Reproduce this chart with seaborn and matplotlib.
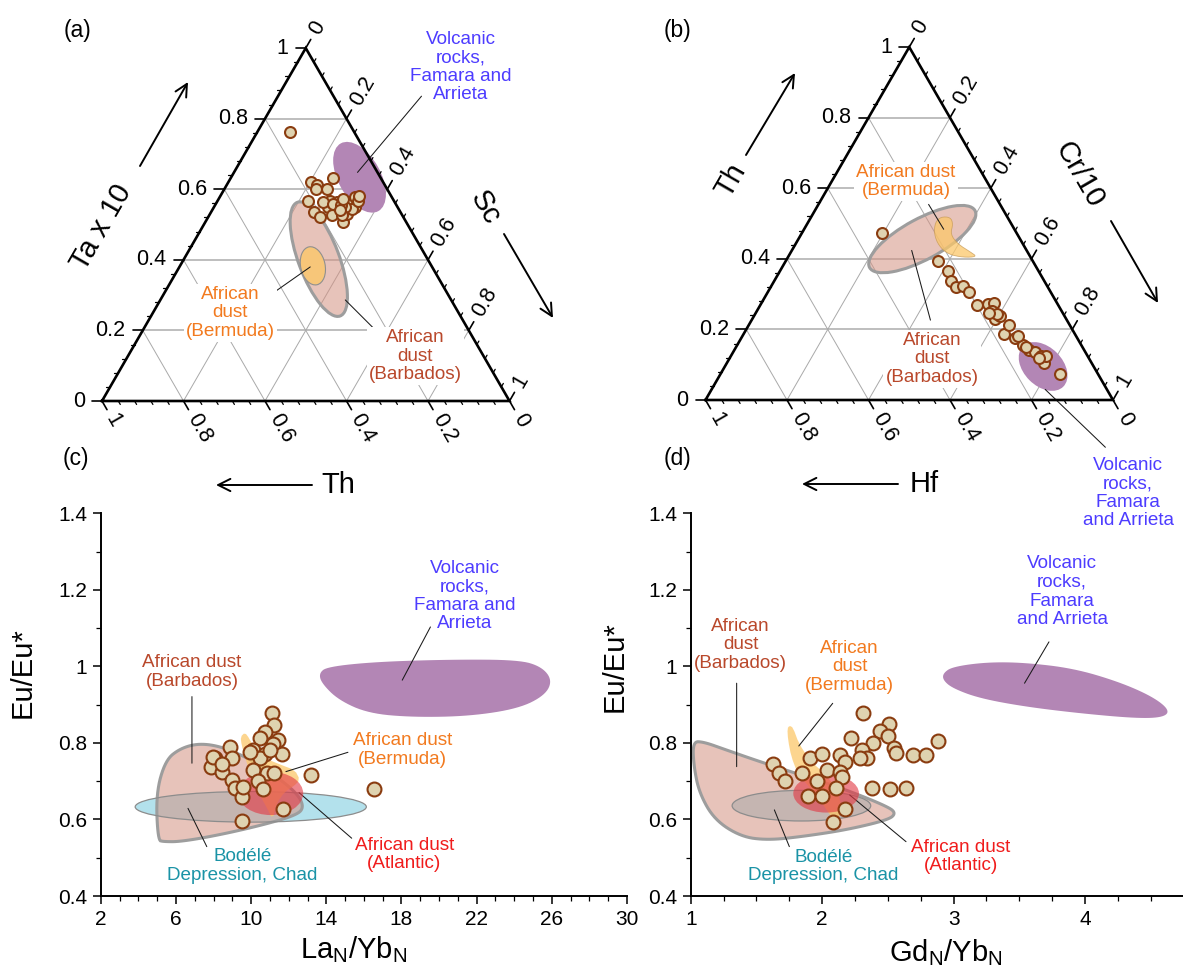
import numpy as np
import pandas as pd
import seaborn as sns
import matplotlib
matplotlib.use("Agg")
import matplotlib.pyplot as plt
from matplotlib.patches import Ellipse, Polygon
from matplotlib.ticker import MultipleLocator, FixedLocator, FuncFormatter

sns.set_theme(style="ticks")
plt.rcParams["font.family"] = ["Liberation Sans", "DejaVu Sans"]
plt.rcParams["mathtext.fontset"] = "custom"
plt.rcParams["mathtext.rm"] = "Liberation Sans"
plt.rcParams["mathtext.it"] = "Liberation Sans:italic"
for key in ("text.color", "axes.labelcolor", "xtick.color", "ytick.color",
            "axes.edgecolor"):
    plt.rcParams[key] = "black"

# ------------------------------------------------------------------ samples
# (a) Ta x 10 - Sc - Th, normalised fractions (Th = 1 - Ta - Sc)
a_ta = [0.762, 0.633, 0.621, 0.613, 0.601, 0.600, 0.566, 0.535, 0.521, 0.549,
        0.526, 0.563, 0.568, 0.507, 0.531, 0.563, 0.577, 0.549, 0.545, 0.568,
        0.549, 0.563, 0.557, 0.526, 0.555, 0.540, 0.572, 0.580]
a_sc = [0.080, 0.251, 0.202, 0.222, 0.225, 0.253, 0.223, 0.253, 0.274, 0.281,
        0.301, 0.294, 0.276, 0.339, 0.335, 0.323, 0.332, 0.346, 0.340, 0.345,
        0.322, 0.261, 0.289, 0.325, 0.310, 0.315, 0.305, 0.340]

# (b) Th - Cr/10 - Hf, normalised fractions (Hf = 1 - Th - Cr)
b_th = [0.474, 0.393, 0.365, 0.338, 0.319, 0.324, 0.307, 0.269, 0.271, 0.274,
        0.252, 0.229, 0.238, 0.187, 0.212, 0.176, 0.157, 0.143, 0.135, 0.124,
        0.105, 0.124, 0.074, 0.181, 0.243, 0.247, 0.119, 0.149]
b_cr = [0.196, 0.374, 0.413, 0.433, 0.455, 0.469, 0.494, 0.532, 0.557, 0.570,
        0.576, 0.596, 0.604, 0.639, 0.640, 0.672, 0.700, 0.723, 0.740, 0.762,
        0.779, 0.774, 0.832, 0.676, 0.595, 0.572, 0.760, 0.712]

# (c) LaN/YbN vs Eu/Eu*
c_la_yb = [11.12, 11.21, 10.73, 10.47, 11.44, 11.18, 10.11, 10.73, 10.47, 11.62,
           8.87, 8.07, 8.96, 7.86, 8.43, 8.96, 9.14, 9.50, 10.11, 10.82,
           11.20, 10.38, 10.64, 13.18, 11.71, 9.53, 9.58, 9.94, 11.00, 16.55,
           7.95, 8.45]
c_eu = [0.879, 0.847, 0.829, 0.812, 0.808, 0.797, 0.781, 0.771, 0.760, 0.771,
        0.790, 0.760, 0.760, 0.738, 0.725, 0.703, 0.681, 0.658, 0.729, 0.722,
        0.722, 0.700, 0.679, 0.716, 0.627, 0.597, 0.684, 0.777, 0.781, 0.679,
        0.764, 0.745]

# (d) GdN/YbN vs Eu/Eu*
d_gd_yb = [2.313, 2.511, 2.440, 2.503, 2.217, 2.389, 2.546, 2.300, 2.338, 2.288,
           2.561, 2.693, 2.790, 2.884, 1.907, 1.996, 2.135, 2.173, 2.039, 2.135,
           2.148, 1.849, 1.958, 1.628, 1.671, 1.717, 2.102, 1.889, 1.996, 2.173,
           2.085, 2.382, 2.516, 2.635]
d_eu = [0.879, 0.849, 0.830, 0.818, 0.812, 0.799, 0.786, 0.781, 0.760, 0.760,
        0.773, 0.769, 0.769, 0.806, 0.760, 0.771, 0.769, 0.750, 0.729, 0.725,
        0.712, 0.721, 0.700, 0.744, 0.722, 0.700, 0.681, 0.662, 0.660, 0.627,
        0.594, 0.681, 0.680, 0.681]

# ------------------------------------------------------------ reference fields
# ternary fields: (top fraction, right fraction) centre, axes, tilt
a_volc_field = dict(top=0.634, right=0.315, w=0.19, h=0.104, ang=-61)
a_barb_field = dict(top=0.402, right=0.331, w=0.298, h=0.10, ang=-69.4)
a_berm_field = dict(top=0.383, right=0.326, w=0.095, h=0.060, ang=-78)
b_barb_field = dict(top=0.456, right=0.304, w=0.294, h=0.10, ang=28.4)
b_volc_field = dict(top=0.095, right=0.781, w=0.14, h=0.095, ang=-45)
b_berm_th = [0.519, 0.518, 0.499, 0.470, 0.442, 0.418, 0.406, 0.404, 0.413,
             0.437, 0.470, 0.503]
b_berm_cr = [0.318, 0.342, 0.358, 0.366, 0.398, 0.443, 0.463, 0.431, 0.389,
             0.354, 0.326, 0.312]

# (c) fields
c_barb_x = [5.04, 4.94, 5.44, 6.24, 7.24, 8.45, 9.85, 11.25, 12.45, 12.81, 12.45,
            10.65, 8.25, 6.24, 5.34]
c_barb_y = [0.546, 0.668, 0.755, 0.786, 0.799, 0.790, 0.760, 0.716, 0.668, 0.633,
            0.612, 0.586, 0.559, 0.542, 0.542]
c_berm_x = [9.44, 9.67, 9.90, 10.20, 10.73, 11.62, 12.33, 12.60, 12.24, 11.80,
            11.35, 11.14, 10.82, 10.29, 9.94, 9.67, 9.49]
c_berm_y = [0.816, 0.827, 0.812, 0.782, 0.760, 0.742, 0.729, 0.703, 0.686, 0.673,
            0.642, 0.599, 0.633, 0.677, 0.721, 0.764, 0.795]
c_volc_x = [13.61, 14.05, 16.65, 20.65, 24.25, 25.46, 26.02, 25.65, 24.25, 21.65,
            18.65, 16.25, 14.65, 13.75]
c_volc_y = [0.982, 0.999, 1.012, 1.018, 1.017, 0.999, 0.964, 0.925, 0.890, 0.870,
            0.867, 0.877, 0.912, 0.956]
c_bod_field = dict(x=9.98, y=0.633, w=12.3, h=0.08)
c_atl_field = dict(x=11.04, y=0.668, w=3.46, h=0.113)

# (d) fields
d_barb_x = [1.015, 1.095, 1.267, 1.526, 1.842, 2.187, 2.503, 2.561, 2.503, 2.187,
            1.842, 1.584, 1.382, 1.181, 1.066, 1.023]
d_barb_y = [0.803, 0.803, 0.782, 0.751, 0.716, 0.677, 0.633, 0.616, 0.599, 0.573,
            0.555, 0.546, 0.555, 0.599, 0.668, 0.738]
d_berm_x = [1.735, 1.752, 1.778, 1.822, 1.905, 2.010, 2.090, 2.140, 2.145, 2.090,
            2.034, 1.965, 1.878, 1.808, 1.765, 1.740]
d_berm_y = [0.838, 0.845, 0.840, 0.799, 0.755, 0.722, 0.690, 0.651, 0.612, 0.597,
            0.625, 0.660, 0.694, 0.725, 0.764, 0.808]
d_volc_x = [2.920, 2.992, 3.250, 3.538, 3.911, 4.256, 4.515, 4.644, 4.601, 4.400,
            3.969, 3.538, 3.193, 2.992, 2.920]
d_volc_y = [0.982, 0.999, 1.011, 1.010, 0.995, 0.960, 0.921, 0.886, 0.867, 0.864,
            0.877, 0.895, 0.917, 0.943, 0.964]
d_bod_field = dict(x=1.842, y=0.636, w=1.055, h=0.08)
d_atl_field = dict(x=2.03, y=0.668, w=0.50, h=0.10)

# ------------------------------------------------------------------- styling
W, H = 1183, 972
PX = 407.5                      # pixels per triangle side
H3 = np.sqrt(3) / 2

PT_FACE, PT_EDGE = "#dfd3b0", "#8a3c10"
F_PURPLE = "#b386b5"
F_BARB, A_BARB = "#d49282", 0.55
E_BARB = "#9d9d9d"
F_BERM, A_BERM = "#fcc86a", 0.75
F_ATL, A_ATL = "#e23a45", 0.62
F_BOD, E_BOD = "#b3e1ec", "#8c8c8c"

T_VOLC = "#4d3cff"
T_BERM = "#f27a1f"
T_BARB = "#b9482b"
T_ATL = "#f01c1c"
T_BOD = "#1a93a6"

FS_LAB = 13.6
FS_TICK = 15.5
FS_AX = 21


def rect(x0, y0, x1, y1):
    return [x0 / W, 1 - y1 / H, (x1 - x0) / W, (y1 - y0) / H]


def tern_xy(top, right):
    top = np.asarray(top, float)
    right = np.asarray(right, float)
    return right + top / 2.0, top * H3


def smooth_closed(xs, ys, n=3):
    p = np.column_stack([xs, ys]).astype(float)
    for _ in range(n):
        nxt = np.roll(p, -1, axis=0)
        q = 0.75 * p + 0.25 * nxt
        r = 0.25 * p + 0.75 * nxt
        p = np.empty((2 * len(q), 2))
        p[0::2], p[1::2] = q, r
    return p


def make_ternary(fig, box, origin):
    x0, y0, x1, y1 = box
    ox, oy = origin
    ax = fig.add_axes(rect(*box))
    ax.set_xlim((x0 - ox) / PX, (x1 - ox) / PX)
    ax.set_ylim((oy - y1) / PX, (oy - y0) / PX)
    ax.axis("off")
    return ax


def draw_ternary_frame(ax):
    major = np.round(np.arange(0, 1.0001, 0.2), 2)
    minor = np.round(np.arange(0, 1.0001, 0.04), 2)
    for v in major[1:-1]:
        x, y = tern_xy([v, v], [0, 1 - v])
        ax.plot(x, y, color="#b3b3b3", lw=1.2, zorder=0.5)
        x, y = tern_xy([0, 1 - v], [v, v])
        ax.plot(x, y, color="#a9a9a9", lw=0.7, zorder=0.5)
        x, y = tern_xy([0, 1 - v], [1 - v, 0])
        ax.plot(x, y, color="#a9a9a9", lw=0.7, zorder=0.5)
    ax.plot([0, 1, 0.5, 0], [0, 0, H3, 0], color="black", lw=1.9, zorder=6,
            solid_joinstyle="miter", solid_capstyle="projecting")

    dirs = {"left": (-1.0, 0.0), "right": (0.5, H3), "bottom": (0.5, -H3)}

    def base(kind, v):
        if kind == "left":
            return tern_xy(v, 0)
        if kind == "right":
            return tern_xy(1 - v, v)
        return tern_xy(0, 1 - v)

    L_maj, L_min = 10 / PX, 4 / PX
    for kind, (dx, dy) in dirs.items():
        for v in minor:
            is_major = np.isclose(v * 5, round(v * 5))
            L = L_maj if is_major else L_min
            bx, by = base(kind, v)
            ax.plot([bx, bx + dx * L], [by, by + dy * L], color="black",
                    lw=1.2 if is_major else 0.9, zorder=6)
        g = L_maj + 7 / PX
        for v in major:
            bx, by = base(kind, v)
            lab = f"{v:g}"
            if kind == "left":
                ax.text(bx + dx * g, by, lab, ha="right", va="center",
                        fontsize=FS_TICK)
            else:
                ax.text(bx + dx * g, by + dy * g, lab,
                        rotation=60 if kind == "right" else -60,
                        rotation_mode="anchor", ha="left", va="center",
                        fontsize=FS_TICK)


def tern_ellipse(ax, f, **kw):
    cx, cy = tern_xy(f["top"], f["right"])
    ax.add_patch(Ellipse((cx, cy), f["w"], f["h"], angle=f["ang"], **kw))


def leader(ax, start, end, lw=0.75):
    ax.annotate("", xy=end, xytext=start, annotation_clip=False,
                arrowprops=dict(arrowstyle="-", lw=lw, color="#1a1a1a",
                                shrinkA=0, shrinkB=0))


def label(ax, xy, txt, color, box=False):
    kw = {}
    if box:
        kw["bbox"] = dict(fc="white", ec="none", pad=1.5)
    ax.text(xy[0], xy[1], txt, ha="center", va="center", color=color,
            fontsize=FS_LAB, linespacing=1.12, zorder=4, **kw)


def scatter_pts(ax, x, y, s):
    sns.scatterplot(x=np.asarray(x), y=np.asarray(y), ax=ax, s=s,
                    color=PT_FACE, edgecolor=PT_EDGE, linewidth=1.5,
                    zorder=5, legend=False)


fig = plt.figure(figsize=(W / 100, H / 100), dpi=100)
fig.patch.set_facecolor("white")

# ------------------------------------------------------------ (a) ternary
ax_a = make_ternary(fig, (0, 0, 590, 470), (102, 401))
draw_ternary_frame(ax_a)
tern_ellipse(ax_a, a_volc_field, fc=F_PURPLE, ec="none", zorder=2)
tern_ellipse(ax_a, a_barb_field, fc=F_BARB, alpha=A_BARB, ec="none", zorder=2)
tern_ellipse(ax_a, a_barb_field, fc="none", ec=E_BARB, lw=2.2, zorder=2.1)
tern_ellipse(ax_a, a_berm_field, fc="#f7c679", ec="#8f8f8f", lw=0.8, zorder=2.2)
xa, ya = tern_xy(a_ta, a_sc)
scatter_pts(ax_a, xa, ya, 62)
label(ax_a, (0.881, 0.820), "Volcanic\nrocks,\nFamara and\nArrieta", T_VOLC)
leader(ax_a, (0.784, 0.748), (0.627, 0.561))
label(ax_a, (0.315, 0.216), "African\ndust\n(Bermuda)", T_BERM, box=True)
leader(ax_a, (0.407, 0.256), (0.511, 0.329))
label(ax_a, (0.769, 0.110), "African\ndust\n(Barbados)", T_BARB, box=True)
leader(ax_a, (0.673, 0.172), (0.597, 0.248))

# ------------------------------------------------------------ (b) ternary
ax_b = make_ternary(fig, (593, 0, 1183, 560), (705.5, 400))
draw_ternary_frame(ax_b)
tern_ellipse(ax_b, b_volc_field, fc=F_PURPLE, ec="none", zorder=2)
tern_ellipse(ax_b, b_barb_field, fc=F_BARB, alpha=A_BARB, ec="none", zorder=2)
tern_ellipse(ax_b, b_barb_field, fc="none", ec=E_BARB, lw=2.2, zorder=2.1)
bx_, by_ = tern_xy(b_berm_th, b_berm_cr)
ax_b.add_patch(Polygon(smooth_closed(bx_, by_, 2), closed=True, fc=F_BERM,
                       alpha=A_BERM, ec="#c79a55", lw=0.6, zorder=2.2))
xb, yb = tern_xy(b_th, b_cr)
scatter_pts(ax_b, xb, yb, 62)
label(ax_b, (0.492, 0.536), "African dust\n(Bermuda)", T_BERM, box=True)
leader(ax_b, (0.5475, 0.480), (0.5845, 0.419))
label(ax_b, (0.556, 0.101), "African\ndust\n(Barbados)", T_BARB, box=True)
leader(ax_b, (0.552, 0.196), (0.506, 0.367))
label(ax_b, (1.037, -0.228), "Volcanic\nrocks,\nFamara\nand Arrieta", T_VOLC)
leader(ax_b, (0.8336, 0.026), (0.9813, -0.116))


# ------------------------------------------------------------ (c) & (d)
def style_xy(ax, xlim, xmajor, xminor):
    ax.set_facecolor("none")
    ax.set_xlim(*xlim)
    ax.set_ylim(0.4, 1.4)
    sns.despine(ax=ax)
    for s in ("left", "bottom"):
        ax.spines[s].set_linewidth(1.4)
        ax.spines[s].set_color("black")
    ax.xaxis.set_major_locator(FixedLocator(xmajor))
    ax.xaxis.set_minor_locator(MultipleLocator(xminor))
    ax.yaxis.set_major_locator(FixedLocator([0.4, 0.6, 0.8, 1.0, 1.2, 1.4]))
    ax.yaxis.set_minor_locator(MultipleLocator(0.1))
    fmt = FuncFormatter(lambda v, p: f"{v:g}")
    ax.xaxis.set_major_formatter(fmt)
    ax.yaxis.set_major_formatter(fmt)
    ax.tick_params(which="major", direction="out", length=6, width=1.1,
                   labelsize=15, pad=4, color="black", labelcolor="black")
    ax.tick_params(which="minor", direction="out", length=3.5, width=0.9,
                   color="black")
    ax.grid(False)


def fields_xy(ax, barb, berm, volc, bod, atl):
    ax.add_patch(Ellipse((bod["x"], bod["y"]), bod["w"], bod["h"], fc=F_BOD,
                         ec="none", zorder=1))
    pb = smooth_closed(*barb, 3)
    ax.add_patch(Polygon(pb, closed=True, fc=F_BARB, alpha=A_BARB, ec="none",
                         zorder=2))
    ax.add_patch(Polygon(pb, closed=True, fc="none", ec=E_BARB, lw=2.2,
                         zorder=2.1))
    ax.add_patch(Ellipse((bod["x"], bod["y"]), bod["w"], bod["h"], fc="none",
                         ec=E_BOD, lw=0.9, zorder=2.2))
    ax.add_patch(Polygon(smooth_closed(*berm, 1), closed=True, fc=F_BERM,
                         alpha=A_BERM, ec="none", zorder=3))
    ax.add_patch(Ellipse((atl["x"], atl["y"]), atl["w"], atl["h"], fc=F_ATL,
                         alpha=A_ATL, ec="none", zorder=3.5))
    ax.add_patch(Polygon(smooth_closed(*volc, 3), closed=True, fc=F_PURPLE,
                         ec="none", zorder=2))


ax_c = fig.add_axes(rect(100.8, 513.3, 627.0, 896.0))
style_xy(ax_c, (2, 30), [2, 6, 10, 14, 18, 22, 26, 30], 1)
fields_xy(ax_c, (c_barb_x, c_barb_y), (c_berm_x, c_berm_y),
          (c_volc_x, c_volc_y), c_bod_field, c_atl_field)
scatter_pts(ax_c, c_la_yb, c_eu, 100)
ax_c.text(0.48, -0.141, r"La$_\mathregular{N}$/Yb$_\mathregular{N}$",
          transform=ax_c.transAxes, ha="center", va="center", fontsize=FS_AX)
ax_c.text(-0.149, 0.583, "Eu/Eu*", transform=ax_c.transAxes, rotation=90,
          ha="center", va="center", fontsize=FS_AX)
label(ax_c, (21.35, 1.184), "Volcanic\nrocks,\nFamara and\nArrieta", T_VOLC)
leader(ax_c, (19.54, 1.103), (18.04, 0.964))
label(ax_c, (6.85, 0.986), "African dust\n(Barbados)", T_BARB)
leader(ax_c, (6.85, 0.921), (6.85, 0.747))
label(ax_c, (18.05, 0.7815), "African dust\n(Bermuda)", T_BERM)
leader(ax_c, (15.15, 0.7755), (11.85, 0.725))
label(ax_c, (18.15, 0.509), "African dust\n(Atlantic)", T_ATL)
leader(ax_c, (15.35, 0.551), (12.55, 0.670))
label(ax_c, (9.55, 0.479), "Bodélé\nDepression, Chad", T_BOD)
leader(ax_c, (7.64, 0.529), (6.64, 0.629))

ax_d = fig.add_axes(rect(690.8, 513.3, 1183.5, 896.0))
style_xy(ax_d, (1, 4.75), [1, 2, 3, 4], 0.25)
fields_xy(ax_d, (d_barb_x, d_barb_y), (d_berm_x, d_berm_y),
          (d_volc_x, d_volc_y), d_bod_field, d_atl_field)
scatter_pts(ax_d, d_gd_yb, d_eu, 100)
ax_d.text(0.517, -0.149, r"Gd$_\mathregular{N}$/Yb$_\mathregular{N}$",
          transform=ax_d.transAxes, ha="center", va="center", fontsize=FS_AX)
ax_d.text(-0.155, 0.599, "Eu/Eu*", transform=ax_d.transAxes, rotation=90,
          ha="center", va="center", fontsize=FS_AX)
label(ax_d, (1.378, 1.056), "African\ndust\n(Barbados)", T_BARB)
leader(ax_d, (1.349, 0.956), (1.349, 0.738))
label(ax_d, (2.208, 0.999), "African\ndust\n(Bermuda)", T_BERM)
leader(ax_d, (2.08, 0.9035), (1.822, 0.792))
label(ax_d, (3.826, 1.195), "Volcanic\nrocks,\nFamara\nand Arrieta", T_VOLC)
leader(ax_d, (3.726, 1.064), (3.54, 0.956))
label(ax_d, (3.053, 0.503), "African dust\n(Atlantic)", T_ATL)
leader(ax_d, (2.638, 0.542), (2.209, 0.664))
label(ax_d, (2.008, 0.477), "Bodélé\nDepression, Chad", T_BOD)
leader(ax_d, (1.75, 0.529), (1.636, 0.625))

# ------------------------------------------- panel letters, axis names, arrows
deco = fig.add_axes([0, 0, 1, 1])
deco.set_xlim(0, W)
deco.set_ylim(H, 0)
deco.axis("off")
for txt, xy in [("(a)", (78, 31)), ("(b)", (678, 31)),
                ("(c)", (76, 458)), ("(d)", (678, 458))]:
    deco.text(*xy, txt, ha="center", va="center", fontsize=16.5)

deco.text(102, 227, "Ta x 10", rotation=60, ha="center", va="center",
          fontsize=FS_AX)
deco.text(485, 208, "Sc", rotation=-60, ha="center", va="center",
          fontsize=FS_AX)
deco.text(338, 485, "Th", ha="center", va="center", fontsize=FS_AX)
deco.text(731, 180, "Th", rotation=60, ha="center", va="center",
          fontsize=FS_AX)
deco.text(1079, 175, "Cr/10", rotation=-60, ha="center", va="center",
          fontsize=FS_AX)
deco.text(924, 484, "Hf", ha="center", va="center", fontsize=FS_AX)

arrow_kw = dict(arrowstyle="->", lw=1.4, color="black", mutation_scale=22,
                shrinkA=0, shrinkB=0)
for start, end in [((140, 166), (188, 82)), ((504, 234), (553, 318)),
                   ((312, 485), (216, 485)), ((746, 155), (795, 73)),
                   ((1111, 221), (1158, 303)), ((898, 484), (802, 484))]:
    deco.annotate("", xy=end, xytext=start, arrowprops=arrow_kw)

fig.savefig("out.png", dpi=100, facecolor="white")
